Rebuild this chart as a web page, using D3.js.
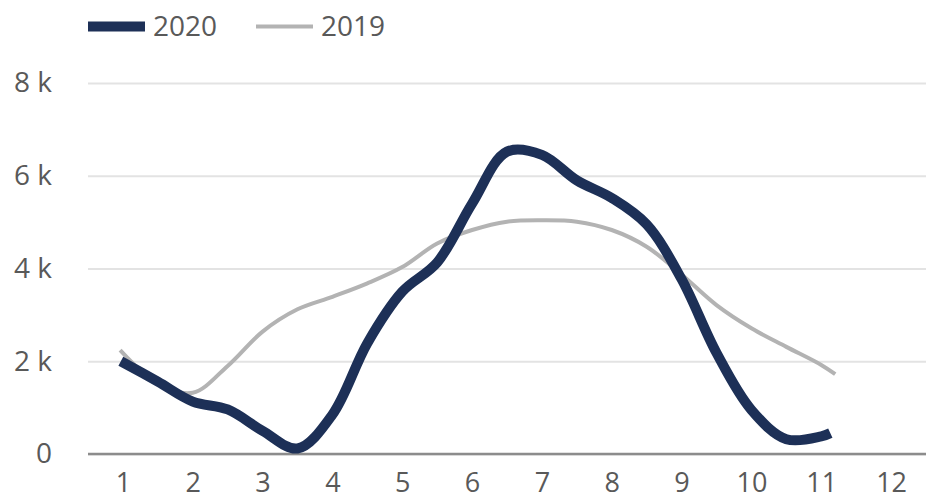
<!DOCTYPE html>
<html>
<head>
<meta charset="utf-8">
<script src="https://cdn.jsdelivr.net/npm/d3@7"></script>
<style>
  body { margin: 0; background: #fff; }
  text { font-family: "Open Sans", sans-serif; fill: #595959; }
</style>
</head>
<body>
<div id="chart"></div>
<script>
// month labels on the x axis
const months = [1, 2, 3, 4, 5, 6, 7, 8, 9, 10, 11, 12];
const yTicks = [0, 2, 4, 6, 8];

// readings along the year (x = month position, y = thousands)
const x2020 = [0.97, 1.5, 2, 2.5, 3, 3.5, 4, 4.5, 5, 5.5, 6, 6.5, 7, 7.5, 8, 8.5, 9, 9.5, 10, 10.5, 11, 11.13];
const v2020 = [2.0, 1.56, 1.13, 0.96, 0.5, 0.12, 0.85, 2.39, 3.5, 4.13, 5.4, 6.52, 6.45, 5.9, 5.52, 4.95, 3.77, 2.18, 0.95, 0.32, 0.38, 0.45];

const x2019 = [0.96, 1.5, 2, 2.5, 3, 3.5, 4, 4.5, 5, 5.5, 6, 6.5, 7, 7.5, 8, 8.5, 9, 9.5, 10, 10.5, 11, 11.2];
const v2019 = [2.24, 1.51, 1.32, 1.9, 2.64, 3.12, 3.39, 3.68, 4.03, 4.54, 4.83, 5.01, 5.04, 5.01, 4.83, 4.47, 3.87, 3.21, 2.71, 2.31, 1.92, 1.72];

const width = 926, height = 500;

let svg = d3.select("#chart")
    .append("svg")
    .attr("width", width)
    .attr("height", height);

let x = d3.scaleLinear().domain([0.5, 12.5]).range([88, 926]);
let y = d3.scaleLinear().domain([0, 8]).range([454, 83]);

// gridlines + y labels
let yAxis = svg.append("g")
    .attr("transform", "translate(88,0)")
    .call(d3.axisLeft(y).tickValues(yTicks).tickSize(-838).tickPadding(36)
        .tickFormat(d => d === 0 ? "0" : d + " k"));
yAxis.select(".domain").remove();
yAxis.selectAll("line").attr("stroke", "#e3e3e3").attr("stroke-width", 2);
yAxis.selectAll("text").style("font-size", "28px").attr("fill", "#595959");

// baseline
svg.append("line")
    .attr("x1", 88).attr("x2", 926)
    .attr("y1", y(0)).attr("y2", y(0))
    .attr("stroke", "#8c8c8c").attr("stroke-width", 2.5);

// x labels (kept inside the bottom edge)
let xAxis = svg.append("g")
    .attr("transform", `translate(0, ${y(0)})`)
    .call(d3.axisBottom(x).tickValues(months).tickSize(0).tickPadding(0));
xAxis.select(".domain").remove();
xAxis.selectAll("text")
    .attr("y", 38).attr("dy", null)
    .style("font-size", "27px").attr("fill", "#595959");

let line = d3.line()
    .x(d => x(d[0]))
    .y(d => y(d[1]))
    .curve(d3.curveCatmullRom.alpha(0.5));

svg.append("path")
    .datum(d3.zip(x2019, v2019))
    .attr("fill", "none")
    .attr("stroke", "#b3b3b3")
    .attr("stroke-width", 4)
    .attr("d", line);

svg.append("path")
    .datum(d3.zip(x2020, v2020))
    .attr("fill", "none")
    .attr("stroke", "#1d3057")
    .attr("stroke-width", 10)
    .attr("d", line);

// legend
const legend = [
    { name: "2020", color: "#1d3057", w: 10, x: 88 },
    { name: "2019", color: "#b3b3b3", w: 4, x: 256 }
];
legend.forEach(function(d) {
    svg.append("line")
        .attr("x1", d.x).attr("x2", d.x + 57)
        .attr("y1", 26.5).attr("y2", 26.5)
        .attr("stroke", d.color).attr("stroke-width", d.w);
    svg.append("text")
        .attr("x", d.x + 65).attr("y", 26)
        .attr("dy", "0.35em")
        .style("font-size", "28px")
        .text(d.name);
});
</script>
</body>
</html>
